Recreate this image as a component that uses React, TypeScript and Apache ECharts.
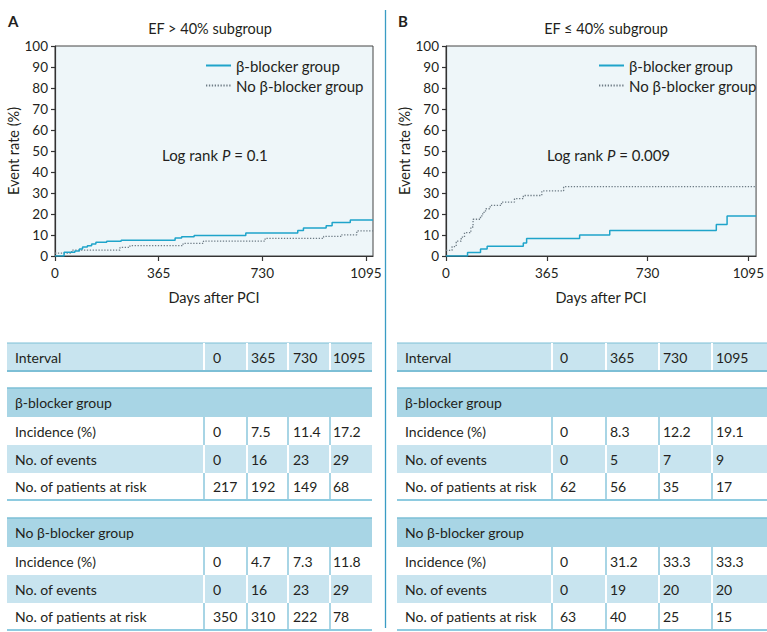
import React, { useEffect, useRef } from 'react';
import * as echarts from 'echarts';

// ---------- data ----------
const intervalDays = [0, 365, 730, 1095];

// Panel A (EF > 40%) Kaplan-Meier curves (day, cumulative event rate %)
const aBetaDays = [0, 32, 70, 86, 97, 114, 129, 144, 182, 233, 423, 446, 490, 672, 855, 875, 955, 976, 1040, 1120];
const aBetaRate = [0, 1.8, 2.4, 3.3, 4.3, 4.9, 5.7, 6.5, 7.0, 7.5, 8.6, 9.2, 9.8, 11.0, 12.1, 13.3, 14.4, 15.9, 17.2, 17.2];
const aNoBetaDays = [0, 59, 229, 264, 451, 523, 740, 946, 1010, 1063, 1120];
const aNoBetaRate = [1.4, 2.8, 4.1, 4.9, 6.0, 7.1, 8.4, 9.3, 10.1, 12.0, 12.0];

// Panel B (EF <= 40%)
const bBetaDays = [0, 78, 125, 149, 280, 292, 484, 593, 979, 1018, 1123];
const bBetaRate = [0, 1.7, 3.3, 4.7, 6.2, 8.3, 10.0, 12.2, 15.0, 19.1, 19.1];
const bNoBetaDays = [0, 22, 37, 55, 67, 90, 98, 125, 133, 143, 160, 201, 248, 280, 347, 426, 1123];
const bNoBetaRate = [2.7, 4.5, 7.1, 9.0, 11.1, 13.8, 17.5, 19.1, 20.8, 22.5, 24.1, 25.7, 27.3, 28.8, 31.0, 33.0, 33.0];

// Tables
const aBetaIncidence = [0, 7.5, 11.4, 17.2];
const aBetaEvents = [0, 16, 23, 29];
const aBetaAtRisk = [217, 192, 149, 68];
const aNoBetaIncidence = [0, 4.7, 7.3, 11.8];
const aNoBetaEvents = [0, 16, 23, 29];
const aNoBetaAtRisk = [350, 310, 222, 78];

const bBetaIncidence = [0, 8.3, 12.2, 19.1];
const bBetaEvents = [0, 5, 7, 9];
const bBetaAtRisk = [62, 56, 35, 17];
const bNoBetaIncidence = [0, 31.2, 33.3, 33.3];
const bNoBetaEvents = [0, 19, 20, 20];
const bNoBetaAtRisk = [63, 40, 25, 15];

const rowLabels = ['Incidence (%)', 'No. of events', 'No. of patients at risk'];
const groupNames = ['β-blocker group', 'No β-blocker group'];

// ---------- styles ----------
const FONT = 'Lato, "Noto Sans", sans-serif';
const TXT = '#231f20';
const BETA_COLOR = '#1fa4ca';
const NOBETA_COLOR = '#6e7c86';
const LIGHT = '#c8e4ef';
const HEADER = '#a8d5e5';
const LINE = '#7dbfd6';
const TABLE_FS = 14;

function zip(d: number[], r: number[]) {
  return d.map((x, i) => [x, r[i]]);
}

function txt(x: number, y: number, text: string, extra: any = {}) {
  return {
    type: 'text',
    x,
    y,
    silent: true,
    style: {
      text,
      fill: TXT,
      fontSize: TABLE_FS,
      fontFamily: FONT,
      align: 'left',
      verticalAlign: 'middle',
      ...extra,
    },
  };
}

function rect(x: number, y: number, w: number, h: number, fill: string) {
  return { type: 'rect', silent: true, shape: { x, y, width: w, height: h }, style: { fill } };
}

function hline(x1: number, x2: number, y: number, stroke: string, lw: number) {
  return { type: 'line', silent: true, shape: { x1, y1: y, x2, y2: y }, style: { stroke, lineWidth: lw } };
}

function vline(x: number, y1: number, y2: number, stroke: string, lw: number) {
  return { type: 'line', silent: true, shape: { x1: x, y1, x2: x, y2 }, style: { stroke, lineWidth: lw } };
}

function tableGraphics(
  x0: number,
  x1: number,
  dividers: number[],
  textX: number[],
  labelX: number,
  groups: number[][][]
) {
  const els: any[] = [];
  const w = x1 - x0;
  // interval row
  const iy = 343;
  els.push(rect(x0, iy, w, 28, LIGHT));
  els.push(hline(x0, x1, iy, LINE, 1));
  els.push(hline(x0, x1, iy + 28, LINE, 2));
  dividers.forEach((d) => els.push(vline(d, iy, iy + 27, '#ffffff', 2)));
  els.push(txt(labelX, iy + 14, 'Interval'));
  intervalDays.forEach((v, i) => els.push(txt(textX[i], iy + 14, String(v))));

  const tops = [388, 518];
  groups.forEach((rows, g) => {
    const yTop = tops[g];
    els.push(rect(x0, yTop, w, 29, HEADER));
    els.push(hline(x0, x1, yTop, LINE, 1.5));
    els.push(txt(labelX, yTop + 14.5, groupNames[g]));
    const heights = [28, 28, 27];
    let y = yTop + 29;
    rows.forEach((vals, r) => {
      const h = heights[r];
      const fill = r === 1 ? LIGHT : '#ffffff';
      els.push(rect(x0, y, w, h, fill));
      dividers.forEach((d) => els.push(vline(d, y, y + h, r === 1 ? '#ffffff' : HEADER, 2)));
      els.push(txt(labelX, y + h / 2, rowLabels[r]));
      vals.forEach((v, i) => els.push(txt(textX[i], y + h / 2, String(v))));
      y += h;
    });
    els.push(hline(x0, x1, y, '#8ecbe0', 2));
  });
  return els;
}

function makeXAxis(gridIndex: number, max: number) {
  return {
    gridIndex,
    type: 'value',
    min: 0,
    max,
    interval: 365,
    name: 'Days after PCI',
    nameLocation: 'middle',
    nameGap: 34,
    nameTextStyle: { fontSize: 14.5, color: TXT, fontFamily: FONT },
    axisLine: { show: true, onZero: false, lineStyle: { color: '#333', width: 1.2 } },
    axisTick: { show: true, length: 5, lineStyle: { color: '#333', width: 1.2 } },
    axisLabel: {
      fontSize: 13.5,
      color: TXT,
      fontFamily: FONT,
      margin: 10,
      showMaxLabel: false,
      formatter: (v: number) => (v % 365 === 0 ? String(v) : ''),
    },
    splitLine: { show: false },
  };
}

function makeYAxis(gridIndex: number) {
  return {
    gridIndex,
    type: 'value',
    min: 0,
    max: 100,
    interval: 10,
    name: 'Event rate (%)',
    nameLocation: 'middle',
    nameGap: 32,
    nameTextStyle: { fontSize: 14.5, color: TXT, fontFamily: FONT },
    axisLine: { show: true, lineStyle: { color: '#333', width: 1.2 } },
    axisTick: { show: true, length: 4, lineStyle: { color: '#333', width: 1.2 } },
    axisLabel: { fontSize: 13.5, color: TXT, fontFamily: FONT, margin: 7 },
    splitLine: { show: false },
  };
}

function kmSeries(name: string, idx: number, data: number[][], dotted: boolean) {
  return {
    type: 'line',
    name,
    xAxisIndex: idx,
    yAxisIndex: idx,
    step: 'end',
    symbol: 'none',
    showSymbol: false,
    silent: true,
    data,
    lineStyle: dotted
      ? { color: NOBETA_COLOR, width: 1.3, type: [1.3, 1.6] }
      : { color: BETA_COLOR, width: 1.5 },
    itemStyle: { color: dotted ? NOBETA_COLOR : BETA_COLOR },
  };
}

function legend(left: number) {
  return {
    left,
    top: 58,
    padding: 0,
    orient: 'vertical',
    itemWidth: 25,
    itemHeight: 12,
    itemGap: 5,
    selectedMode: false,
    data: groupNames,
    itemStyle: { opacity: 0 },
    textStyle: { fontSize: 15, color: TXT, fontFamily: FONT },
  };
}

function logRank(x: number, p: string) {
  return {
    type: 'text',
    x,
    y: 155,
    silent: true,
    style: {
      text: `{n|Log rank }{i|P}{n| = ${p}}`,
      fill: TXT,
      fontSize: 15,
      fontFamily: FONT,
      verticalAlign: 'middle',
      rich: {
        n: { fontSize: 15, fontFamily: FONT, fill: TXT },
        i: { fontSize: 15, fontFamily: FONT, fontStyle: 'italic', fill: TXT },
      },
    },
  };
}

export default function App() {
  const ref = useRef<HTMLDivElement>(null);
  useEffect(() => {
    if (!ref.current) return;
    const chart = echarts.init(ref.current, null, { renderer: 'svg' });
    const graphics: any[] = [
      txt(8, 21, 'A', { fontWeight: 'bold', fontSize: 15 }),
      txt(398, 21, 'B', { fontWeight: 'bold', fontSize: 15 }),
      txt(210, 28, 'EF > 40% subgroup', { align: 'center', fontSize: 14.5 }),
      txt(606, 28, 'EF ≤ 40% subgroup', { align: 'center', fontSize: 14.5 }),
      logRank(162, '0.1'),
      logRank(547, '0.009'),
      vline(385.5, 10, 628, '#3a9cc4', 1.3),
      ...tableGraphics(7, 372, [204, 247, 288, 330], [213, 251, 293, 333], 15, [
        [aBetaIncidence, aBetaEvents, aBetaAtRisk],
        [aNoBetaIncidence, aNoBetaEvents, aNoBetaAtRisk],
      ]),
      ...tableGraphics(397, 767, [552, 606, 659, 712], [560, 610, 663, 716], 405, [
        [bBetaIncidence, bBetaEvents, bBetaAtRisk],
        [bNoBetaIncidence, bNoBetaEvents, bNoBetaAtRisk],
      ]),
    ];

    chart.setOption({
      animation: false,
      backgroundColor: '#ffffff',
      textStyle: { fontFamily: FONT },
      grid: [
        { left: 55, top: 46, width: 318, height: 210, show: true, backgroundColor: '#eef6f9', borderColor: '#444', borderWidth: 1 },
        { left: 446, top: 46, width: 319, height: 210, show: true, backgroundColor: '#eef6f9', borderColor: '#444', borderWidth: 1 },
      ],
      xAxis: [makeXAxis(0, 1120), makeXAxis(1, 1123)],
      yAxis: [makeYAxis(0), makeYAxis(1)],
      legend: [legend(205), legend(598)],
      series: [
        kmSeries(groupNames[1], 0, zip(aNoBetaDays, aNoBetaRate), true),
        kmSeries(groupNames[0], 0, zip(aBetaDays, aBetaRate), false),
        kmSeries(groupNames[1], 1, zip(bNoBetaDays, bNoBetaRate), true),
        kmSeries(groupNames[0], 1, zip(bBetaDays, bBetaRate), false),
      ],
      graphic: graphics,
    });
    return () => chart.dispose();
  }, []);
  return (
    <div
      ref={ref}
      style={{ position: 'absolute', left: 0, top: 0, width: 767, height: 632 }}
    />
  );
}
